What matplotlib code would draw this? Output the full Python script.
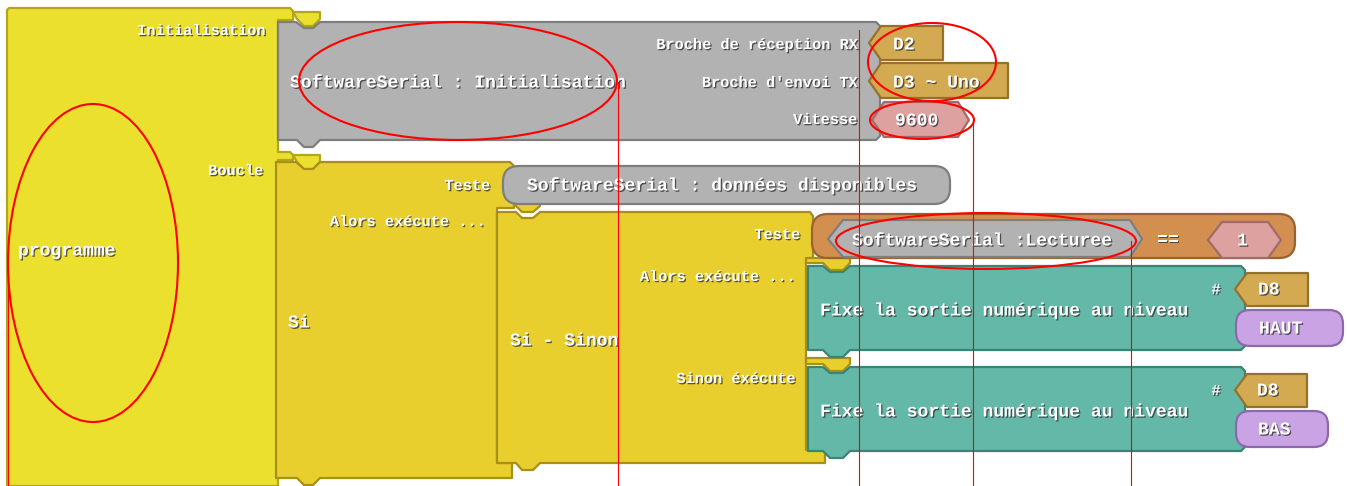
import matplotlib
matplotlib.use("Agg")
import matplotlib.pyplot as plt
from matplotlib.patches import Polygon, FancyBboxPatch, Ellipse
import matplotlib.patheffects as pe

# ---- colours of block families ----
COL = {
    "prog": ("#ECE02E", "#B3A51C"),
    "si": ("#E9CF2D", "#A88F18"),
    "gray": ("#B2B2B2", "#7E7E7E"),
    "gold": ("#D3AA52", "#94722C"),
    "pink": ("#DDA1A0", "#A26A68"),
    "teal": ("#63B8A7", "#3B8576"),
    "purple": ("#C9A3E3", "#8D68AC"),
    "orange": ("#D28F50", "#9A6230"),
}

# ---- polygon blocks: (family, vertices) ----
poly_blocks = [
    ("prog", [(7, 486), (7, 10), (9, 8), (290, 8), (293, 11), (293, 20), (278, 20),
              (278, 152), (290, 152), (293, 155), (293, 160), (278, 160), (278, 486)]),
    ("prog", [(293, 12), (320, 12), (320, 19), (313, 26), (304, 26), (297, 19)]),
    ("prog", [(293, 155), (320, 155), (320, 162), (313, 169), (304, 169), (297, 162)]),
    ("gray", [(278, 22), (296, 22), (304, 28), (313, 28), (320, 22), (876, 22), (880, 26),
              (880, 136), (876, 140), (320, 140), (313, 147), (304, 147), (297, 140), (278, 140)]),
    ("si", [(276, 162), (296, 162), (304, 169), (313, 169), (320, 162), (510, 162), (514, 166),
            (514, 208), (497, 208), (497, 463), (512, 463), (512, 478), (320, 478),
            (313, 485), (304, 485), (297, 478), (276, 478)]),
    ("si", [(514, 201), (540, 201), (540, 206), (533, 212), (522, 212), (516, 206)]),
    ("si", [(497, 212), (516, 212), (522, 218), (533, 218), (540, 212), (810, 212), (813, 216),
            (813, 262), (806, 262), (806, 450), (825, 450), (825, 463), (540, 463),
            (533, 470), (522, 470), (516, 463), (497, 463)]),
    ("si", [(806, 258), (850, 258), (850, 263), (843, 270), (830, 270), (823, 263), (806, 263)]),
    ("si", [(806, 358), (850, 358), (850, 364), (843, 371), (830, 371), (823, 364), (806, 364)]),
    ("teal", [(808, 266), (823, 266), (830, 272), (843, 272), (850, 266), (1241, 266), (1245, 270),
              (1245, 346), (1241, 350), (850, 350), (843, 357), (830, 357), (823, 350), (808, 350)]),
    ("teal", [(808, 367), (823, 367), (830, 373), (843, 373), (850, 367), (1241, 367), (1245, 371),
              (1245, 447), (1241, 451), (850, 451), (843, 458), (830, 458), (823, 451), (808, 451)]),
    ("gold", [(869, 43), (881, 26), (943, 26), (943, 60), (881, 60)]),
    ("gold", [(869, 81), (881, 63), (1008, 63), (1008, 98), (881, 98)]),
    ("pink", [(872, 120), (884, 102), (958, 102), (969, 120), (958, 137), (884, 137)]),
]

# ---- rounded blocks: (family, x, y, w, h, radius) ----
round_blocks = [
    ("gray", 503, 166, 447, 38, 16),
    ("orange", 812, 214, 483, 44, 16),
    ("purple", 1236, 310, 107, 36, 14),
    ("purple", 1236, 411, 92, 36, 14),
]

# ---- blocks drawn after the rounded ones ----
overlay_blocks = [
    ("gray", [(828, 239), (843, 220), (1130, 220), (1142, 239), (1130, 257), (843, 257)]),
    ("pink", [(1208, 240), (1222, 222), (1268, 222), (1281, 240), (1268, 258), (1222, 258)]),
    ("gold", [(1235, 289), (1247, 273), (1308, 273), (1308, 306), (1247, 306)]),
    ("gold", [(1235, 390), (1247, 374), (1307, 374), (1307, 407), (1247, 407)]),
]

# ---- texts: (text, x, y, size, ha) ----
big = 13
small = 11
texts = [
    ("Initialisation", 265, 31, small, "right"),
    ("programme", 18, 251, big, "left"),
    ("Boucle", 263, 171, small, "right"),
    ("SoftwareSerial : Initialisation", 290, 83, big, "left"),
    ("Broche de réception RX", 857, 45, small, "right"),
    ("Broche d'envoi TX", 857, 83, small, "right"),
    ("Vitesse", 857, 120, small, "right"),
    ("D2", 893, 45, big, "left"),
    ("D3 ~ Uno", 893, 83, big, "left"),
    ("9600", 895, 121, big, "left"),
    ("Teste", 490, 186, small, "right"),
    ("SoftwareSerial : données disponibles", 527, 186, big, "left"),
    ("Alors exécute ...", 485, 222, small, "right"),
    ("Si", 288, 323, big, "left"),
    ("Teste", 800, 235, small, "right"),
    ("SoftwareSerial :Lecturee", 852, 241, big, "left"),
    ("==", 1157, 240, big, "left"),
    ("1", 1237, 241, big, "left"),
    ("Alors exécute ...", 795, 277, small, "right"),
    ("Si - Sinon", 510, 341, big, "left"),
    ("Sinon éxécute", 795, 379, small, "right"),
    ("Fixe la sortie numérique au niveau", 820, 311, big, "left"),
    ("#", 1216, 290, small, "center"),
    ("D8", 1258, 290, big, "left"),
    ("HAUT", 1259, 329, big, "left"),
    ("Fixe la sortie numérique au niveau", 820, 412, big, "left"),
    ("#", 1216, 391, small, "center"),
    ("D8", 1257, 391, big, "left"),
    ("BAS", 1258, 430, big, "left"),
]

# ---- red annotations ----
ellipses = [  # (cx, cy, w, h)
    (93, 263, 170, 318),
    (458, 81, 318, 118),
    (932, 62, 128, 78),
    (922, 120, 104, 38),
    (986, 241, 300, 56),
]
vlines = [  # (x, y_top)
    (618, 82), (859, 30), (973, 120), (1131, 241), (8, 270),
]

fig = plt.figure(figsize=(13.47, 4.86), dpi=100)
ax = fig.add_axes([0, 0, 1, 1])
ax.set_xlim(0, 1347)
ax.set_ylim(486, 0)
ax.axis("off")


def draw_poly(fam, pts, z):
    fc, ec = COL[fam]
    ax.add_patch(Polygon(pts, closed=True, facecolor=fc, edgecolor=ec, lw=1.6,
                         joinstyle="round", zorder=z))


z = 1
for fam, pts in poly_blocks:
    draw_poly(fam, pts, z)
    z += 0.1
for fam, x, y, w, h, r in round_blocks:
    fc, ec = COL[fam]
    ax.add_patch(FancyBboxPatch((x, y), w, h, boxstyle=f"round,pad=0,rounding_size={r}",
                                facecolor=fc, edgecolor=ec, lw=1.6, zorder=z))
    z += 0.1
for fam, pts in overlay_blocks:
    draw_poly(fam, pts, z)
    z += 0.1

shadow = [pe.withSimplePatchShadow(offset=(0.9, -0.9), shadow_rgbFace="#333333", alpha=0.8)]
for s, x, y, size, ha in texts:
    ax.text(x, y, s, fontsize=size, ha=ha, va="center", color="white",
            family="Liberation Mono", fontweight="bold", zorder=20, path_effects=shadow)

for cx, cy, w, h in ellipses:
    ax.add_patch(Ellipse((cx, cy), w, h, fill=False, edgecolor="#FF0000", lw=1.5, zorder=30))
for x, yt in vlines:
    ax.plot([x, x], [yt, 486], color="#FF0000", lw=0.8, zorder=29)

fig.savefig("out.png", dpi=100, facecolor="white")
